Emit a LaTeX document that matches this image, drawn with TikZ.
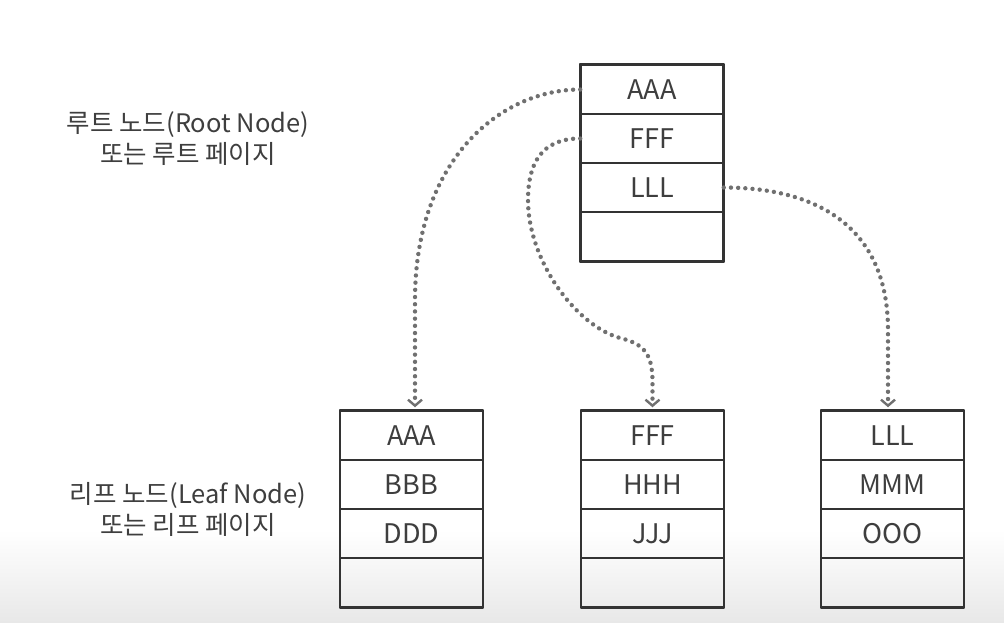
\documentclass[tikz,border=0pt]{standalone}
\usepackage{fontspec}
\setmainfont{Noto Sans CJK KR}
\usetikzlibrary{arrows.meta}
\definecolor{txt}{HTML}{3E3E3E}
\definecolor{frm}{HTML}{333333}
\definecolor{dot}{HTML}{707070}
\tikzset{
  cell/.style={draw=frm, line width=1.5pt, minimum width=142pt, minimum height=49pt,
    inner sep=0pt, text=txt, font=\fontsize{27}{29}\selectfont},
  frame/.style={draw=frm, line width=2.4pt, line join=round},
  lbl/.style={align=center, text=txt, font=\fontsize{25.5}{31}\selectfont},
  ptr/.style={draw=dot, line width=4.4pt, line cap=round, dash pattern=on 0pt off 7.2pt,
    -{Straight Barb[length=6pt,width=14pt,line width=2.4pt]}, shorten >=3pt},
}
\begin{document}
\begin{tikzpicture}[x=1pt,y=-1pt]
\useasboundingbox (0,0) rectangle (1004,622);
\shade[top color=white, bottom color=black!9] (0,530) rectangle (1004,622);

% root page
\node[cell] (r1) at (652,89.5) {AAA};
\node[cell] (r2) at (652,138.5) {FFF};
\node[cell] (r3) at (652,187.5) {LLL};
\node[cell] (r4) at (652,236.5) {};
\draw[frame] (r1.north west) rectangle (r4.south east);

% leaf pages
\node[cell] (a1) at (411.5,435.5) {AAA};
\node[cell] (a2) at (411.5,484.5) {BBB};
\node[cell] (a3) at (411.5,533.5) {DDD};
\node[cell] (a4) at (411.5,582.5) {};
\draw[frame] (a1.north west) rectangle (a4.south east);

\node[cell] (b1) at (652.5,435.5) {FFF};
\node[cell] (b2) at (652.5,484.5) {HHH};
\node[cell] (b3) at (652.5,533.5) {JJJ};
\node[cell] (b4) at (652.5,582.5) {};
\draw[frame] (b1.north west) rectangle (b4.south east);

\node[cell] (c1) at (892.5,435.5) {LLL};
\node[cell] (c2) at (892.5,484.5) {MMM};
\node[cell] (c3) at (892.5,533.5) {OOO};
\node[cell] (c4) at (892.5,582.5) {};
\draw[frame] (c1.north west) rectangle (c4.south east);

% labels
\node[lbl] (rootlbl) at (188,139) {루트 노드(Root Node)\\또는 루트 페이지};
\node[lbl] (leaflbl) at (188,509) {리프 노드(Leaf Node)\\또는 리프 페이지};

% pointers
\draw[ptr] (r1.west) .. controls +(-80,0) and +(0,-140) .. ([xshift=3.5pt]a1.north |- 0,300) -- ([xshift=3.5pt]a1.north);
\draw[ptr] (r2.west) .. controls +(-40,0) and +(0,-35) .. (528,200)
  .. controls (528,260) and (575,325) .. (620,338)
  .. controls (645,344) and (652,355) .. (b1.north |- 0,380) -- (b1.north);
\draw[ptr] (r3.east) .. controls +(97,0) and +(0,-100) .. ([xshift=-4.5pt]c1.north |- 0,330) -- ([xshift=-4.5pt]c1.north);
\end{tikzpicture}
\end{document}
